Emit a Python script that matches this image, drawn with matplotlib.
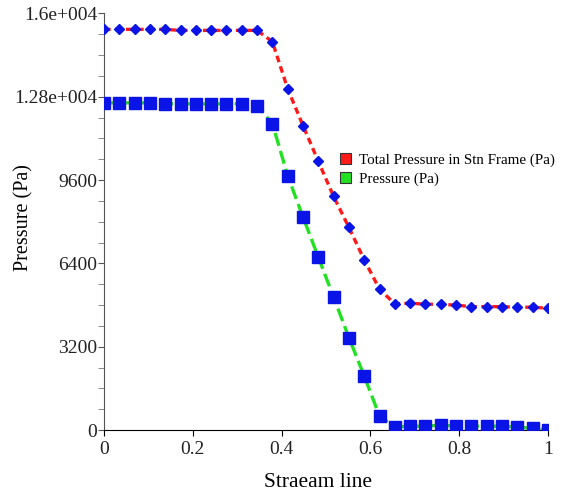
import numpy as np
import matplotlib.pyplot as plt
from matplotlib.patches import Patch

# streamline samples (30 equally spaced stations)
stream_pos = np.linspace(0, 1, 30)

total_pressure = [15385, 15385, 15385, 15385, 15385, 15346, 15346, 15346, 15346, 15346,
                  15346, 14912, 13103, 11692, 10319, 8973, 7781, 6538, 5411, 4846,
                  4873, 4834, 4834, 4796, 4742, 4742, 4742, 4719, 4719, 4680]
static_pressure = [12565, 12565, 12565, 12565, 12527, 12527, 12527, 12527, 12527, 12527,
                   12461, 11769, 9769, 8180, 6642, 5104, 3550, 2077, 538, 115,
                   154, 154, 192, 154, 154, 154, 154, 115, 77, 0]

ytick_vals = [0, 3200, 6400, 9600, 12800, 16000]
ytick_labels = ["0", "3200", "6400", "9600", "1.28e+004", "1.6e+004"]
xtick_vals = [0, 0.2, 0.4, 0.6, 0.8, 1]
xtick_labels = ["0", "0.2", "0.4", "0.6", "0.8", "1"]

serif = "Liberation Serif"

fig = plt.figure(figsize=(5.62, 4.95), dpi=100)
ax = fig.add_axes([0.185, 0.131, 0.79, 0.842])

ax.plot(stream_pos, total_pressure, color="#ff1a1a", lw=2.4, dashes=(2.0, 1.3), zorder=2)
ax.plot(stream_pos, total_pressure, ls="none", marker="D", ms=5.5, color="#0a14e6", zorder=3)
ax.plot(stream_pos, static_pressure, color="#22e022", lw=2.4, dashes=(4.0, 1.6), zorder=2)
ax.plot(stream_pos, static_pressure, ls="none", marker="s", ms=8, color="#0a14e6", zorder=3)

ax.set_xlim(0, 1)
ax.set_ylim(0, 16000)
ax.spines["top"].set_visible(False)
ax.spines["right"].set_visible(False)
ax.spines["left"].set_color("#555555")

ax.set_yticks(ytick_vals)
ax.set_yticklabels(ytick_labels, fontfamily=serif, fontsize=14, color="#222222")
ax.set_yticks(np.arange(0, 16001, 800), minor=True)
ax.set_xticks(xtick_vals)
ax.set_xticklabels(xtick_labels, fontfamily=serif, fontsize=14, color="#222222")
ax.tick_params(axis="y", which="major", length=4, color="#555555", pad=1)
ax.tick_params(axis="y", which="minor", length=4, color="#777777")
ax.tick_params(axis="x", length=4, pad=4)

ax.set_ylabel("Pressure (Pa)", fontfamily=serif, fontsize=14.5)
ax.set_xlabel("Straeam line", fontfamily=serif, fontsize=15.5)
ax.yaxis.set_label_coords(-0.158, 0.51)
ax.xaxis.set_label_coords(0.483, -0.103)

handles = [Patch(facecolor="#ff1a1a", edgecolor="#333333", lw=0.8),
           Patch(facecolor="#22e022", edgecolor="#333333", lw=0.8)]
ax.legend(handles, ["Total Pressure in Stn Frame (Pa)", "Pressure (Pa)"],
          loc="upper left", bbox_to_anchor=(0.518, 0.68), frameon=False,
          prop={"family": serif, "size": 10.8}, handlelength=0.75, handleheight=0.75,
          handletextpad=0.5, labelspacing=0.35, borderaxespad=0)

fig.savefig("out.png", dpi=100)
